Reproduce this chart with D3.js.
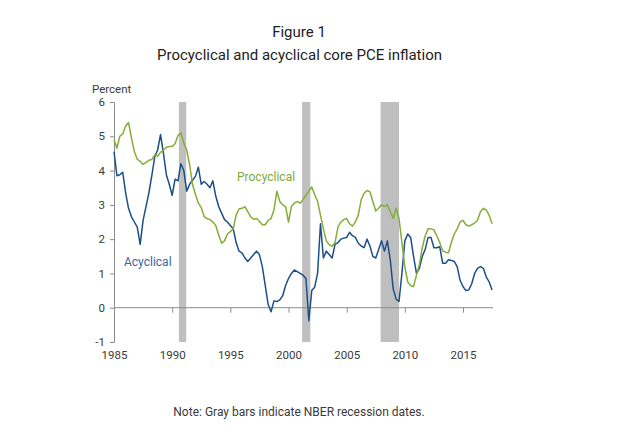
<!DOCTYPE html>
<html>
<head>
<meta charset="utf-8">
<script src="https://cdn.jsdelivr.net/npm/d3@7"></script>
<style>
  html, body { margin: 0; padding: 0; background: #ffffff; }
  svg { display: block; font-family: Roboto, "Noto Sans", sans-serif; }
</style>
</head>
<body>
<svg id="chart" width="640" height="439"></svg>
<script>
// ---- data (quarterly, starting 1985Q1) ----
const startYear = 1985;
const stepYears = 0.25;
const procyclical = [
  4.9, 4.65, 5.0, 5.07, 5.3, 5.4, 4.95, 4.55,
  4.33, 4.27, 4.18, 4.24, 4.3, 4.32, 4.46, 4.42,
  4.53, 4.6, 4.68, 4.7, 4.7, 4.78, 5.02, 5.1,
  4.8, 4.6, 4.17, 3.6, 3.3, 3.05, 2.92, 2.66,
  2.6, 2.57, 2.5, 2.4, 2.12, 1.88, 1.95, 2.15,
  2.22, 2.3, 2.7, 2.88, 2.9, 2.95, 2.8, 2.65,
  2.58, 2.6, 2.52, 2.42, 2.42, 2.55, 2.6, 2.85,
  3.4, 3.1, 3.0, 2.95, 2.5, 2.95, 3.05, 3.1,
  3.05, 3.15, 3.28, 3.4, 3.52, 3.3, 3.1, 2.7,
  2.3, 1.95, 1.84, 1.79, 1.9, 2.35, 2.5, 2.57,
  2.6, 2.45, 2.38, 2.5, 2.7, 3.15, 3.34, 3.42,
  3.38, 3.1, 2.82, 2.9, 3.0, 2.95, 3.0, 2.8,
  2.6, 2.9, 2.6, 1.9, 1.2, 0.75, 0.65, 0.62,
  0.95, 1.25, 1.75, 2.1, 2.3, 2.3, 2.27, 2.1,
  1.9, 1.66, 1.62, 1.6, 1.9, 2.15, 2.3, 2.5,
  2.55, 2.42, 2.38, 2.42, 2.47, 2.55, 2.8, 2.9,
  2.85, 2.7, 2.45
];
const acyclical = [
  4.55, 3.85, 3.88, 3.95, 3.35, 2.9, 2.65, 2.5,
  2.35, 1.85, 2.55, 2.95, 3.35, 3.85, 4.4, 4.6,
  5.05, 4.5, 3.88, 3.6, 3.28, 3.75, 3.7, 4.2,
  4.0, 3.4, 3.6, 3.72, 3.83, 4.1, 3.6, 3.68,
  3.6, 3.5, 3.7, 3.25, 2.95, 2.76, 2.57, 2.5,
  2.4, 2.3, 1.9, 1.65, 1.6, 1.45, 1.35, 1.45,
  1.55, 1.65, 1.55, 1.2, 0.65, 0.1, -0.12, 0.2,
  0.18, 0.23, 0.35, 0.65, 0.85, 1.0, 1.1, 1.05,
  1.0, 0.95, 0.85, -0.38, 0.5, 0.6, 1.0, 2.45,
  1.45, 1.65, 1.55, 1.45, 1.85, 1.9, 2.0, 2.03,
  2.05, 2.2, 2.1, 2.05, 1.88, 1.8, 1.75, 2.0,
  1.8, 1.5, 1.45, 1.7, 1.95, 1.65, 1.95, 1.4,
  0.55, 0.25, 0.18, 1.0, 1.95, 2.15, 2.05, 1.5,
  1.0, 1.15, 1.5, 1.7, 2.05, 2.05, 1.75, 1.75,
  1.78, 1.3, 1.3, 1.4, 1.38, 1.35, 1.2, 0.8,
  0.62, 0.5, 0.52, 0.7, 1.0, 1.15, 1.2, 1.15,
  0.9, 0.75, 0.52
];
const recessionStarts = [1990.58, 2001.17, 2007.92];
const recessionEnds   = [1991.21, 2001.88, 2009.5];
const xTickYears = [1985, 1990, 1995, 2000, 2005, 2010, 2015];
const yTickValues = [-1, 0, 1, 2, 3, 4, 5, 6];

// ---- layout ----
const svg = d3.select("#chart");
const x = d3.scaleLinear().domain([1985, 2017.58]).range([114, 493]);
const y = d3.scaleLinear().domain([-1, 6]).range([342, 102]);
const dateOf = i => startYear + i * stepYears;

const axisColor = "#8c8c8c";
const textColor = "#3a3a3a";
const green = "#86ad37";
const blue = "#1c4f8a";

// titles
svg.append("text").attr("x", 299).attr("y", 37).attr("text-anchor", "middle")
  .attr("font-size", 15).attr("fill", "#222").text("Figure 1");
svg.append("text").attr("x", 299.5).attr("y", 60).attr("text-anchor", "middle")
  .attr("font-size", 15).attr("fill", "#222").text("Procyclical and acyclical core PCE inflation");

// recession bars
svg.append("g").selectAll("rect").data(recessionStarts).join("rect")
  .attr("x", (d) => x(d))
  .attr("width", (d, i) => x(recessionEnds[i]) - x(d))
  .attr("y", y(6)).attr("height", y(-1) - y(6))
  .attr("fill", "#bfbfbf");

// y axis
const yAxis = d3.axisLeft(y).tickValues(yTickValues).tickSize(4).tickPadding(5)
  .tickFormat(d => String(d));
const gy = svg.append("g").attr("transform", `translate(${x(1985)},0)`).call(yAxis);
gy.select(".domain").attr("stroke", axisColor);
gy.selectAll(".tick line").attr("stroke", axisColor);
gy.selectAll(".tick text").attr("font-size", 11.5).attr("fill", textColor)
  .attr("font-family", "Roboto, sans-serif");

// x axis on zero line
const xAxis = d3.axisBottom(x).tickValues(xTickYears).tickSize(5).tickFormat(d => String(d));
const gx = svg.append("g").attr("transform", `translate(0,${y(0)})`).call(xAxis);
gx.select(".domain").attr("stroke", axisColor).attr("d", `M${x(1985)},0H${x(2017.58)}`);
gx.selectAll(".tick line").attr("stroke", axisColor);
gx.selectAll(".tick text").attr("font-size", 11.5).attr("fill", textColor)
  .attr("font-family", "Roboto, sans-serif")
  .attr("y", y(-1) - y(0) + 9).attr("dy", "0.71em");

// "Percent" label
svg.append("text").attr("x", 92).attr("y", 93).attr("font-size", 11.5)
  .attr("fill", textColor).text("Percent");

// lines
const line = d3.line().x((d, i) => x(dateOf(i))).y(d => y(d));
svg.append("path").datum(acyclical).attr("d", line).attr("fill", "none")
  .attr("stroke", blue).attr("stroke-width", 1.5).attr("stroke-linejoin", "round");
svg.append("path").datum(procyclical).attr("d", line).attr("fill", "none")
  .attr("stroke", green).attr("stroke-width", 1.5).attr("stroke-linejoin", "round");

// series labels
svg.append("text").attr("x", 237).attr("y", 181).attr("font-size", 12)
  .attr("fill", "#7fa93a").text("Procyclical");
svg.append("text").attr("x", 124).attr("y", 265.5).attr("font-size", 12)
  .attr("fill", "#3a66a0").text("Acyclical");

// note
svg.append("text").attr("x", 299).attr("y", 416).attr("text-anchor", "middle")
  .attr("font-size", 12).attr("fill", textColor)
  .text("Note: Gray bars indicate NBER recession dates.");
</script>
</body>
</html>
